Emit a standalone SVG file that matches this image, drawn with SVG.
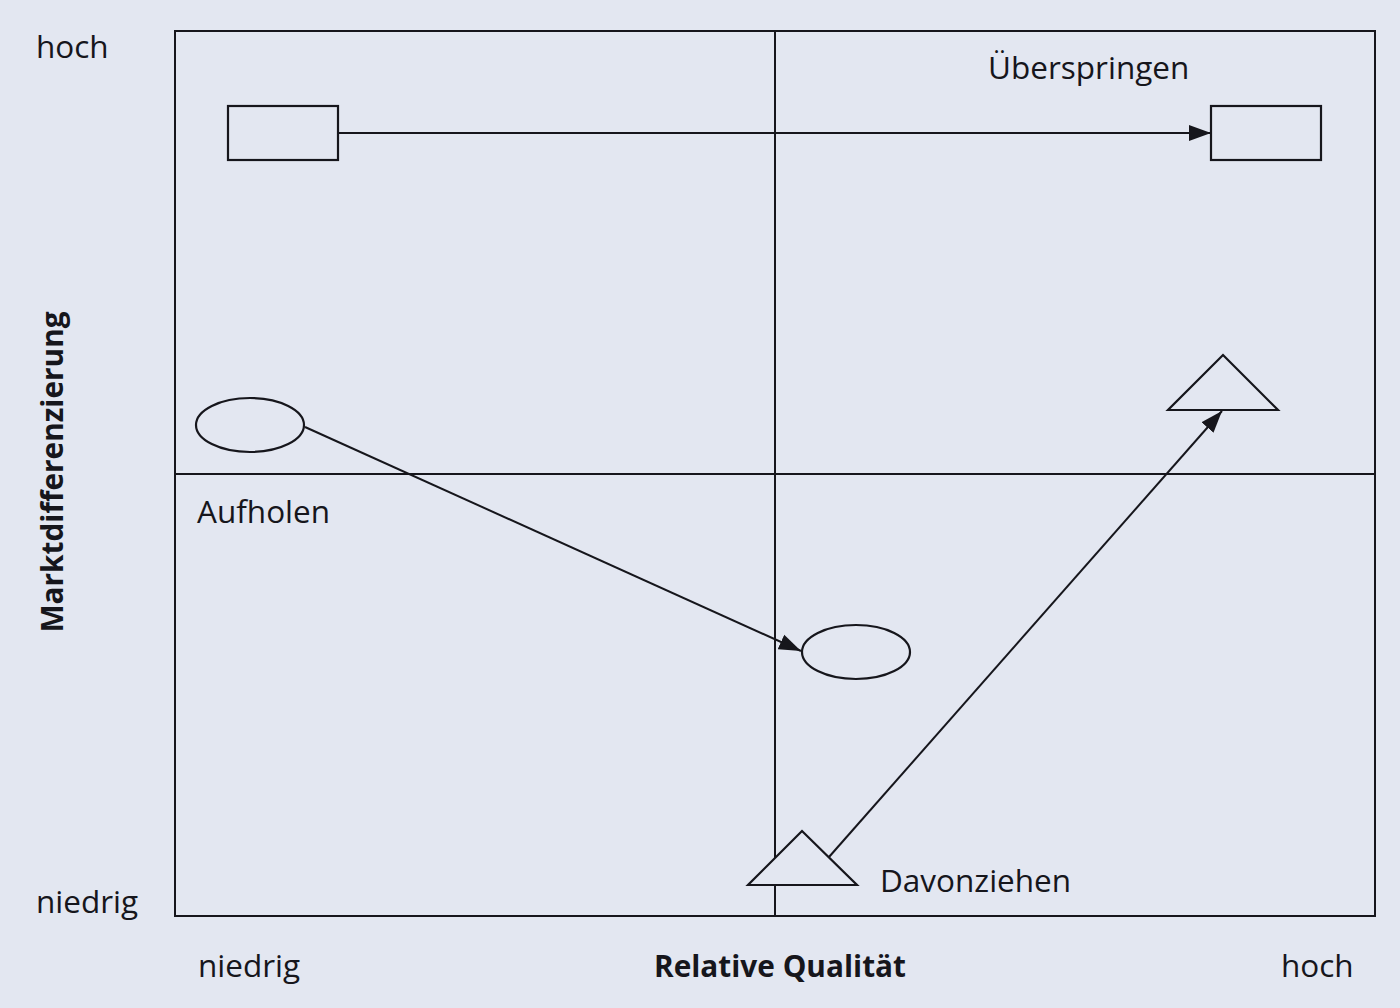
<svg xmlns="http://www.w3.org/2000/svg" width="1400" height="1008" viewBox="0 0 1400 1008">
<defs>
<style>
.ln{stroke:#16161c;stroke-width:2;fill:none}
.shape{stroke:#16161c;stroke-width:2.2;fill:#e3e7f1}
.t{font-family:"Open Sans","Liberation Sans",sans-serif;font-size:31.5px;fill:#16161c}
.b{font-weight:bold;font-size:29.8px}
</style>
<marker id="arr" viewBox="0 0 22 18" refX="22" refY="9" markerWidth="22" markerHeight="18" markerUnits="userSpaceOnUse" orient="auto">
<path d="M0,1 L22,9 L0,17 z" fill="#16161c"/>
</marker>
</defs>
<rect x="0" y="0" width="1400" height="1008" fill="#e3e7f1"/>
<g id="frame">
<rect class="ln" x="175" y="31" width="1200" height="885" stroke-width="2.5"/>
<line class="ln" x1="775" y1="31" x2="775" y2="916"/>
<line class="ln" x1="175" y1="474" x2="1375" y2="474"/>
</g>
<g id="connectors">
<line class="ln" x1="338" y1="133" x2="1211" y2="133" marker-end="url(#arr)"/>
<line class="ln" x1="305" y1="427" x2="801" y2="651" marker-end="url(#arr)"/>
<line class="ln" x1="829" y1="857" x2="1222" y2="411" marker-end="url(#arr)"/>
</g>
<g id="rect-left"><rect class="shape" x="228" y="106" width="110" height="54"/></g>
<g id="rect-right"><rect class="shape" x="1211" y="106" width="110" height="54"/></g>
<g id="ellipse-left"><ellipse class="shape" cx="250" cy="425" rx="54" ry="27"/></g>
<g id="ellipse-right"><ellipse class="shape" cx="856" cy="652" rx="54" ry="27"/></g>
<g id="triangle-top"><polygon class="shape" points="1223,355 1278,410 1168,410"/></g>
<g id="triangle-bottom"><polygon class="shape" points="802,831 857,885 748,885"/></g>
<g id="labels">
<text class="t" x="36" y="58">hoch</text>
<text class="t" x="36" y="913">niedrig</text>
<text class="t" x="198" y="977">niedrig</text>
<text class="t b" x="780" y="977" text-anchor="middle">Relative Qualität</text>
<text class="t" x="1281" y="977">hoch</text>
<text class="t" x="988" y="79">Überspringen</text>
<text class="t" x="197" y="523">Aufholen</text>
<text class="t" x="880" y="892">Davonziehen</text>
<text class="t b" x="0" y="0" text-anchor="middle" transform="translate(63,472) rotate(-90)">Marktdifferenzierung</text>
</g>
</svg>
